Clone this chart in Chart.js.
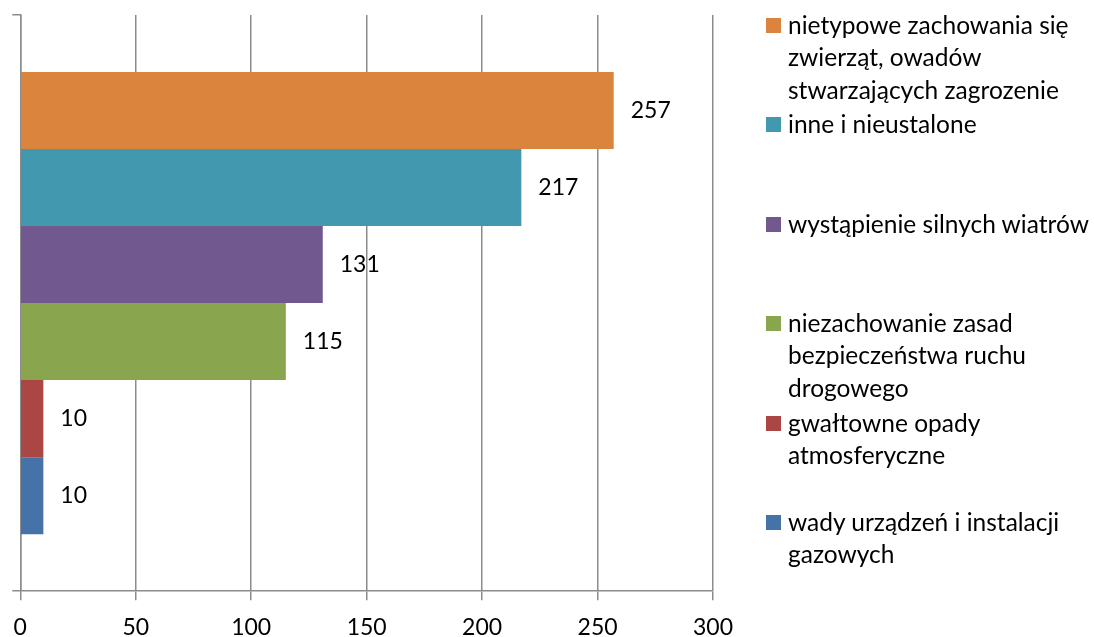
<!DOCTYPE html>
<html>
<head>
<meta charset="utf-8">
<script src="https://cdn.jsdelivr.net/npm/chart.js@4/dist/chart.umd.min.js"></script>
<style>
    html, body { margin: 0; padding: 0; background: #fff; }
    #wrap { position: relative; width: 1094px; height: 637px; overflow: hidden; }
    #chart { display: block; }
    #legend { position: absolute; left: 766px; top: 9px; font-family: Lato, "Open Sans", sans-serif; font-size: 24.5px; color: #000; }
    .item { position: relative; height: 99.4px; }
    .box { position: absolute; left: 0; top: 9px; width: 15px; height: 15px; }
    .txt { position: absolute; left: 22px; top: 0; line-height: 32.3px; white-space: pre; }
</style>
</head>
<body>
<div id="wrap">
    <canvas id="chart" width="1094" height="655"></canvas>
    <div id="legend"></div>
</div>
<script>
// -----------------------------
// Dane
// -----------------------------
const categories = [''];
const seriesNames = [
    'nietypowe zachowania się\nzwierząt, owadów\nstwarzających zagrozenie',
    'inne i nieustalone',
    'wystąpienie silnych wiatrów',
    'niezachowanie zasad\nbezpieczeństwa ruchu\ndrogowego',
    'gwałtowne opady\natmosferyczne',
    'wady urządzeń i instalacji\ngazowych'
];
const seriesValues = [257, 217, 131, 115, 10, 10];
const seriesColors = ['#DB843D', '#4198AF', '#71588F', '#89A54E', '#AA4643', '#4572A7'];
const xTicks = [0, 50, 100, 150, 200, 250, 300];

const gridColor = '#8c8c8c';
const fontFamily = 'Lato, "Open Sans", sans-serif';

// -----------------------------
// Etykiety danych
// -----------------------------
const valueLabels = {
    id: 'valueLabels',
    afterDatasetsDraw(chart) {
        const ctx = chart.ctx;
        ctx.save();
        ctx.font = '23px ' + fontFamily;
        ctx.fillStyle = '#000';
        ctx.textAlign = 'left';
        ctx.textBaseline = 'middle';
        chart.data.datasets.forEach((ds, i) => {
            chart.getDatasetMeta(i).data.forEach((bar, j) => {
                ctx.fillText(String(ds.data[j]), bar.x + 17, bar.y);
            });
        });
        ctx.restore();
    }
};

const datasets = seriesNames.map((name, i) => ({
    label: name,
    data: [seriesValues[i]],
    backgroundColor: seriesColors[i],
    borderWidth: 0,
    categoryPercentage: 0.802,
    barPercentage: 1
}));

new Chart(document.getElementById('chart').getContext('2d'), {
    type: 'bar',
    data: { labels: categories, datasets: datasets },
    options: {
        responsive: false,
        animation: false,
        indexAxis: 'y',
        layout: { padding: { left: 11.5, top: 15, right: 381, bottom: 0 } },
        plugins: { legend: { display: false }, tooltip: { enabled: false } },
        scales: {
            x: {
                min: 0,
                max: 300,
                afterBuildTicks: axis => { axis.ticks = xTicks.map(v => ({ value: v })); },
                grid: { color: gridColor, lineWidth: 1.5, tickLength: 9, drawTicks: true },
                border: { color: gridColor, width: 1.5 },
                ticks: { color: '#000', padding: 13.6, font: { family: fontFamily, size: 23 } }
            },
            y: {
                grid: { offset: true, drawOnChartArea: false, drawTicks: true, tickLength: 8, color: gridColor, lineWidth: 1.5 },
                border: { color: gridColor, width: 1.5 },
                ticks: { display: false }
            }
        }
    },
    plugins: [valueLabels]
});

// -----------------------------
// Legenda (HTML)
// -----------------------------
const legendEl = document.getElementById('legend');
seriesNames.forEach((name, i) => {
    const item = document.createElement('div');
    item.className = 'item';
    item.innerHTML = '<div class="box" style="background:' + seriesColors[i] + '"></div><div class="txt"></div>';
    item.querySelector('.txt').textContent = name;
    legendEl.appendChild(item);
});
</script>
</body>
</html>
